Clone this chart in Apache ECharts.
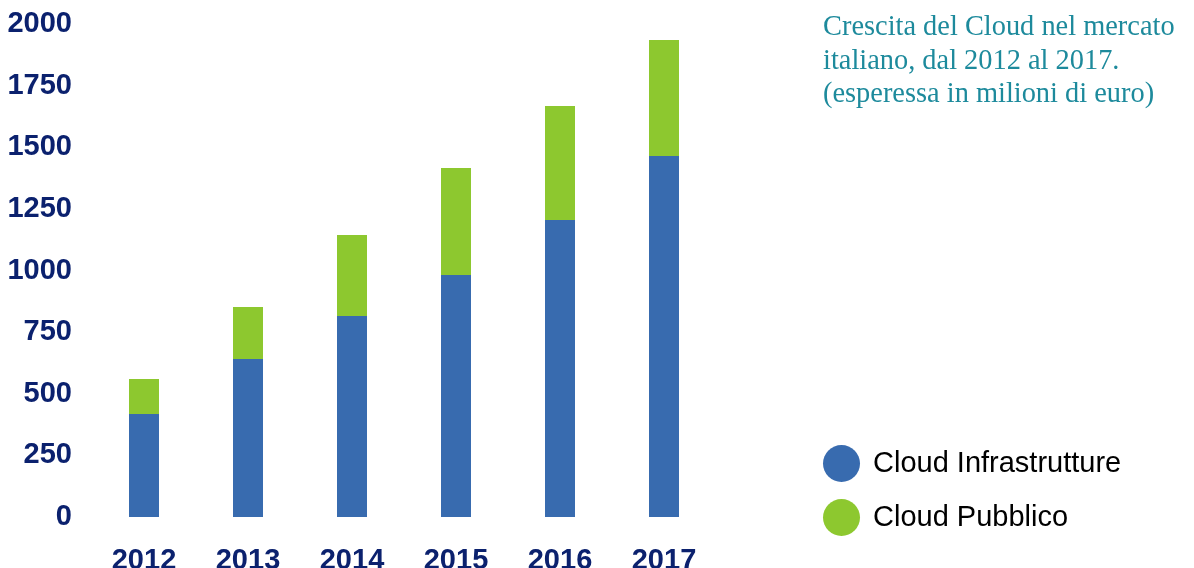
<!DOCTYPE html>
<html>
<head>
<meta charset="utf-8">
<script src="https://cdn.jsdelivr.net/npm/echarts@6/dist/echarts.min.js"></script>
<style>
html,body{margin:0;padding:0;background:#fff;}
#c{width:1194px;height:568px;}
</style>
</head>
<body>
<div id="c"></div>
<script>
const categories = ['2012', '2013', '2014', '2015', '2016', '2017'];
const cloudInfrastrutture = [418, 641, 815, 982, 1205, 1465];
const cloudPubblico = [142, 211, 329, 434, 462, 470];
const seriesNames = ['Cloud Infrastrutture', 'Cloud Pubblico'];
const titleLines = ['Crescita del Cloud nel mercato', 'italiano, dal 2012 al 2017.', '(esperessa in milioni di euro)'];

const chart = echarts.init(document.getElementById('c'));
const navy = '#0b216e';
chart.setOption({
  backgroundColor: '#ffffff',
  animation: false,
  title: {
    text: titleLines.join('\n'),
    left: 823,
    top: 11,
    padding: 0,
    textStyle: {
      fontFamily: 'Liberation Serif',
      fontWeight: 'normal',
      fontSize: 28.4,
      lineHeight: 33.5,
      color: '#1d8a9c'
    }
  },
  legend: {
    orient: 'vertical',
    left: 823,
    top: 445,
    padding: 0,
    itemWidth: 37,
    itemHeight: 37,
    itemGap: 17,
    icon: 'circle',
    data: seriesNames,
    textStyle: {
      fontFamily: 'Liberation Sans',
      fontSize: 29,
      color: '#000000',
      padding: [6, 0, 0, 8]
    }
  },
  grid: {
    left: 92,
    right: 478,
    top: 24,
    bottom: 51,
    containLabel: false,
    outerBoundsMode: 'none'
  },
  xAxis: {
    type: 'category',
    data: categories,
    axisLine: { show: false },
    axisTick: { show: false },
    axisLabel: {
      margin: 29,
      fontFamily: 'Liberation Sans',
      fontWeight: 'bold',
      fontSize: 29,
      color: navy
    }
  },
  yAxis: {
    type: 'value',
    min: 0,
    max: 2000,
    interval: 250,
    axisLine: { show: false },
    axisTick: { show: false },
    splitLine: { show: false },
    axisLabel: {
      margin: 20,
      fontFamily: 'Liberation Sans',
      fontWeight: 'bold',
      fontSize: 29,
      color: navy,
      formatter: function (v) { return String(v); }
    }
  },
  series: [
    {
      name: seriesNames[0],
      type: 'bar',
      stack: 'tot',
      barWidth: 30,
      data: cloudInfrastrutture,
      itemStyle: { color: '#386baf' }
    },
    {
      name: seriesNames[1],
      type: 'bar',
      stack: 'tot',
      barWidth: 30,
      data: cloudPubblico,
      itemStyle: { color: '#8dc82f' }
    }
  ]
});
</script>
</body>
</html>
